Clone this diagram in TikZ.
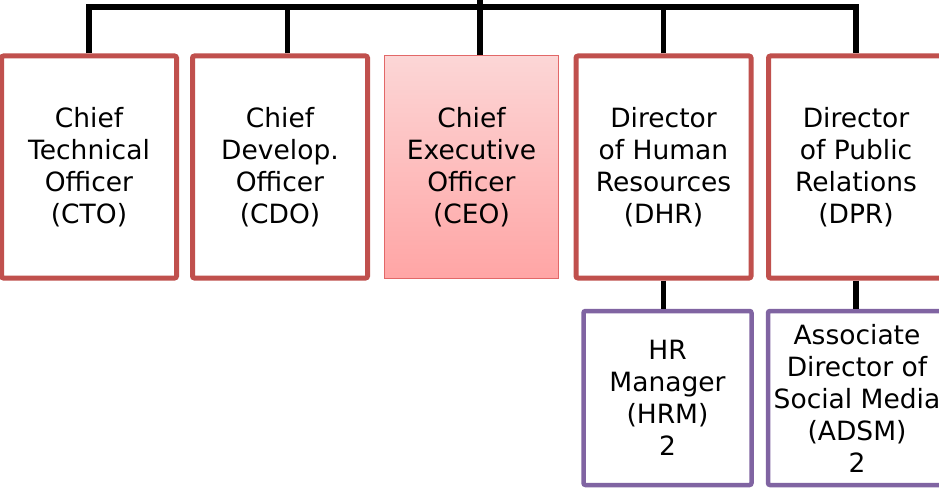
\documentclass[tikz,border=0pt]{standalone}
\usepackage{fontspec}
\setmainfont{DejaVu Sans}
\definecolor{boxred}{RGB}{192,80,77}
\definecolor{boxpurple}{RGB}{128,100,162}
\definecolor{ceoline}{RGB}{226,104,104}
\definecolor{ceotop}{RGB}{252,214,214}
\definecolor{ceobot}{RGB}{255,165,165}
\begin{document}
\begin{tikzpicture}[x=1pt,y=-1pt,
  txt/.style={font=\fontsize{26.5}{32}\selectfont, align=center, text=black, inner sep=0pt},
  bigbox/.style={txt, draw=boxred, line width=5pt, rounded corners=2pt, fill=white, minimum width=175pt, minimum height=222pt},
  ceobox/.style={txt, draw=ceoline, line width=1.3pt, top color=ceotop, bottom color=ceobot, minimum width=174pt, minimum height=223pt},
  subbox/.style={txt, draw=boxpurple, line width=4.5pt, rounded corners=2pt, fill=white, minimum height=174pt},
  conn/.style={draw=black, line width=5.5pt, line join=miter}]
\clip (0,0) rectangle (939,487);
\fill[white] (0,0) rectangle (939,487);
\node[bigbox] (cto) at (89,167) {Chief\\Technical\\Officer\\(CTO)};
\node[bigbox] (cdo) at (280,167) {Chief\\Develop.\\Officer\\(CDO)};
\node[ceobox] (ceo) at (471.5,167) {Chief\\Executive\\Officer\\(CEO)};
\node[bigbox] (dhr) at (663.5,167) {Director\\of Human\\Resources\\(DHR)};
\node[bigbox] (dpr) at (856,167) {Director\\of Public\\Relations\\(DPR)};
\node[subbox, minimum width=168pt] (hrm) at (667.5,398) {HR\\Manager\\(HRM)\\2};
\node[subbox, minimum width=178pt] (adsm) at (857,398) {Associate\\Director of\\Social Media\\(ADSM)\\2};
\coordinate (bar) at (0,7);
\coordinate (ceoup) at (480,0);
\draw[conn] (cto.north) -- (cto.north |- bar) -- (bar -| dpr.north) -- (dpr.north);
\draw[conn] ([xshift=7.5pt]cdo.north) -- ([xshift=7.5pt]cdo.north |- bar);
\draw[conn] (ceoup) -- (ceoup |- ceo.north);
\draw[conn] (dhr.north) -- (dhr.north |- bar);
\draw[conn] (dhr.south) -- (dhr.south |- hrm.north);
\draw[conn] (dpr.south) -- (dpr.south |- adsm.north);
\end{tikzpicture}
\end{document}
